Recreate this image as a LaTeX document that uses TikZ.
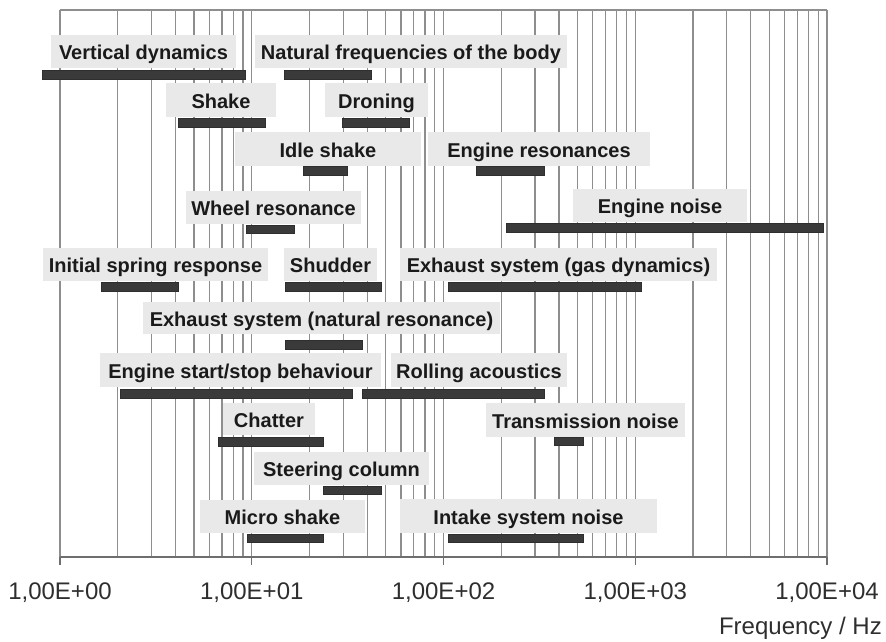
\documentclass[tikz,border=0pt]{standalone}
\usepackage{fontspec}
\setmainfont{Liberation Sans}
\definecolor{gridgray}{HTML}{8E8E8E}
\definecolor{axisgray}{HTML}{6E6E6E}
\definecolor{boxgray}{HTML}{E9E9E9}
\definecolor{bargray}{HTML}{3A3A3A}
\definecolor{inkgray}{HTML}{1A1A1A}
\definecolor{ticktext}{HTML}{2E2E2E}
\tikzset{
  gridline/.style={draw=gridgray, line width=1.2pt},
  axisline/.style={draw=axisgray, line width=1.4pt},
  phenom/.style={rectangle, fill=boxgray, inner sep=0pt, text=inkgray,
    font=\fontsize{20}{24}\selectfont\bfseries,
    text height=16.3pt, text depth=0pt, align=center},
  rangebar/.style={fill=bargray, draw=bargray!80!black, line width=0.6pt},
  ticklabel/.style={font=\fontsize{24}{28}\selectfont, text=ticktext, inner sep=0pt}
}
\begin{document}
\begin{tikzpicture}[x=1pt, y=-1pt]
\useasboundingbox (0,0) rectangle (886,641);

% logarithmic grid, 1..9 per decade, four decades
\foreach \k in {0,1,2,3} {
  \foreach \m in {1,...,9} {
    \pgfmathsetmacro\gx{60+(\k+log10(\m))*191.75}
    \draw[gridline] (\gx,10) -- (\gx,557);
  }
}
\draw[gridline] (827,10) -- (827,557);
\draw[gridline] (60,10) -- (827,10);

% frequency axis with decade ticks
\draw[axisline] (60,557) -- (827,557);
\foreach \k in {0,1,2,3,4} {
  \draw[axisline] (60+\k*191.75,557) -- (60+\k*191.75,565);
}
\node[ticklabel] (t0) at (60,593) {1,00E+00};
\node[ticklabel] (t1) at (251.75,593) {1,00E+01};
\node[ticklabel] (t2) at (443.5,593) {1,00E+02};
\node[ticklabel] (t3) at (635.25,593) {1,00E+03};
\node[ticklabel] (t4) at (827,593) {1,00E+04};
\node[ticklabel, anchor=east] (unit) at (882,628) {Frequency / Hz};

% phenomena labels
\node[phenom, minimum width=185, minimum height=33] (vd) at (143.5,51.5) {Vertical dynamics};
\node[phenom, minimum width=312, minimum height=33] (nf) at (411,51.5) {Natural frequencies of the body};
\node[phenom, minimum width=110, minimum height=34] (sh) at (221,100) {Shake};
\node[phenom, minimum width=103, minimum height=34] (dr) at (376.5,100) {Droning};
\node[phenom, minimum width=186, minimum height=34] (is) at (328,149) {Idle shake};
\node[phenom, minimum width=222, minimum height=34] (er) at (539,149) {Engine resonances};
\node[phenom, minimum width=175, minimum height=33] (wr) at (273.5,207.5) {Wheel resonance};
\node[phenom, minimum width=174, minimum height=33] (en) at (660,205.5) {Engine noise};
\node[phenom, minimum width=225, minimum height=33] (isr) at (155.5,264.5) {Initial spring response};
\node[phenom, minimum width=93, minimum height=33] (shd) at (330.5,264.5) {Shudder};
\node[phenom, minimum width=317, minimum height=33] (egd) at (558.5,264.5) {Exhaust system (gas dynamics)};
\node[phenom, minimum width=357, minimum height=32] (enr) at (321.5,318) {Exhaust system (natural resonance)};
\node[phenom, minimum width=281, minimum height=34] (ess) at (240.5,370) {Engine start/stop behaviour};
\node[phenom, minimum width=176, minimum height=34] (ra) at (479,370) {Rolling acoustics};
\node[phenom, minimum width=92, minimum height=32] (ch) at (269,419) {Chatter};
\node[phenom, minimum width=199, minimum height=34] (tn) at (585.5,420) {Transmission noise};
\node[phenom, minimum width=175, minimum height=33] (sc) at (341.5,468.5) {Steering column};
\node[phenom, minimum width=165, minimum height=33] (ms) at (282.5,516.5) {Micro shake};
\node[phenom, minimum width=257, minimum height=34] (isn) at (528.5,516) {Intake system noise};

% frequency ranges
\fill[rangebar] (42,70) rectangle (245,79);
\fill[rangebar] (284,70) rectangle (371,79);
\fill[rangebar] (178,118.5) rectangle (265,127);
\fill[rangebar] (342,118.5) rectangle (409,127);
\fill[rangebar] (303,166.5) rectangle (347,175);
\fill[rangebar] (476,166.5) rectangle (544,175);
\fill[rangebar] (246,225) rectangle (294,233);
\fill[rangebar] (506,223.5) rectangle (823,232.5);
\fill[rangebar] (101,282) rectangle (178,291);
\fill[rangebar] (285,282) rectangle (381,291);
\fill[rangebar] (448,282) rectangle (641,291);
\fill[rangebar] (285,340) rectangle (362,349);
\fill[rangebar] (120,389) rectangle (352,398);
\fill[rangebar] (362,389) rectangle (544,398);
\fill[rangebar] (218,437) rectangle (323,446);
\fill[rangebar] (554,437) rectangle (583,445);
\fill[rangebar] (323,486) rectangle (381,494);
\fill[rangebar] (247,534) rectangle (323,542);
\fill[rangebar] (448,534) rectangle (583,542);
\end{tikzpicture}
\end{document}
